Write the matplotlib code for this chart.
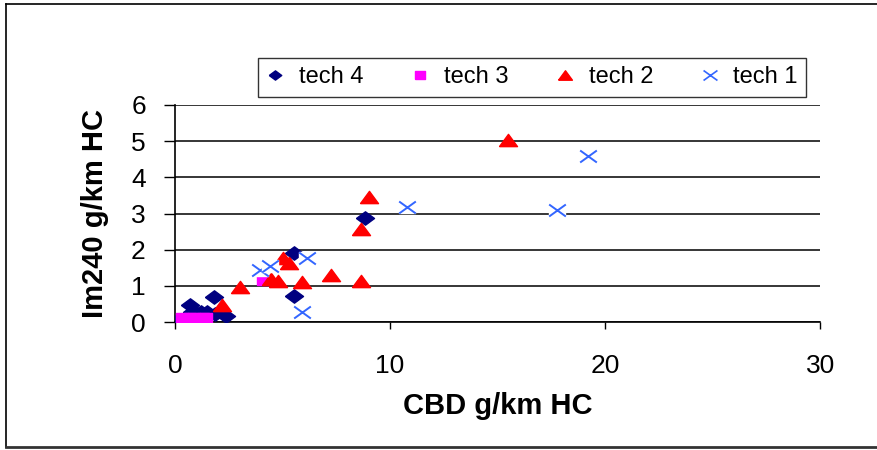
import numpy as np
import matplotlib
matplotlib.use("Agg")
import matplotlib.pyplot as plt
from matplotlib.path import Path
from matplotlib.lines import Line2D

# ── Data ──────────────────────────────────────────────────────────────────────
tech4_x = [0.1, 0.45, 0.7, 0.8, 1.0, 1.2, 1.5, 1.8, 1.85, 2.35, 5.53, 5.53, 8.83]
tech4_y = [0.03, 0.12, 0.48, 0.28, 0.25, 0.28, 0.27, 0.68, 0.22, 0.17, 1.92, 0.72, 2.87]

tech3_x = [0.35, 0.5, 0.6, 0.7, 0.9, 1.1, 1.3, 1.45, 4.1]
tech3_y = [0.10, 0.08, 0.05, 0.12, 0.10, 0.08, 0.10, 0.12, 1.15]

tech2_x = [15.47, 9.0, 8.64, 8.64, 7.25, 5.9, 4.8, 4.45, 5.0, 5.3, 3.0, 2.2]
tech2_y = [5.03, 3.45, 2.57, 1.13, 1.30, 1.12, 1.13, 1.18, 1.77, 1.63, 0.97, 0.47]

tech1_x = [19.2, 17.75, 10.8, 6.15, 5.9, 3.95, 4.4]
tech1_y = [4.59, 3.10, 3.18, 1.77, 0.28, 1.45, 1.55]

x_ticks = [0, 10, 20, 30]
y_ticks = [0, 1, 2, 3, 4, 5, 6]

# ── Markers (Excel style, a bit wider than tall) ──────────────────────────────
diamond = Path([(-1.35, 0), (0, 1), (1.35, 0), (0, -1), (-1.35, 0)])
square = Path([(-1.2, -1), (1.2, -1), (1.2, 1), (-1.2, 1), (-1.2, -1)])
triangle = Path([(-1, -0.68), (1, -0.68), (0, 0.68), (-1, -0.68)])
cross = Path([(-1, -0.72), (1, 0.72), (-1, 0.72), (1, -0.72)],
             [Path.MOVETO, Path.LINETO, Path.MOVETO, Path.LINETO])
cross_bg = Path([(-1, -0.72), (1, -0.72), (1, 0.72), (-1, 0.72), (-1, -0.72)])

NAVY = "#000080"
MAGENTA = "#ff00ff"
RED = "#ff0000"
BLUE = "#3366ff"

plt.rcParams["font.family"] = ["Liberation Sans", "DejaVu Sans"]

fig = plt.figure(figsize=(8.77, 4.5), dpi=100)
ax = fig.add_axes([0.1995, 0.2844, 0.7360, 0.4823])

ax.plot(tech4_x, tech4_y, ls="none", marker=diamond, ms=13,
        color=NAVY, mec=NAVY, zorder=3)
ax.plot(tech3_x, tech3_y, ls="none", marker=square, ms=9,
        color=MAGENTA, mec=MAGENTA, zorder=4)
ax.plot(tech2_x, tech2_y, ls="none", marker=triangle, ms=13,
        color=RED, mec=RED, zorder=5)
for i, (x, y) in enumerate(zip(tech1_x, tech1_y)):
    z = 6 + i * 0.01
    ax.plot([x], [y], ls="none", marker=cross_bg, ms=12, color="white",
            mec="white", zorder=z)
    ax.plot([x], [y], ls="none", marker=cross, ms=12, mfc="none",
            mec=BLUE, mew=1.4, zorder=z + 0.005)

ax.set_xlim(0, 30)
ax.set_ylim(0, 6)
ax.set_xticks(x_ticks)
ax.set_yticks(y_ticks)
ax.tick_params(axis="y", direction="out", length=8, width=1, pad=13,
               labelsize=19)
ax.tick_params(axis="x", direction="out", length=5, width=1, pad=18,
               labelsize=19)
for spine in ["top", "right"]:
    ax.spines[spine].set_visible(False)
for spine in ["left", "bottom"]:
    ax.spines[spine].set_linewidth(1.2)
ax.yaxis.grid(True, color="black", linewidth=1.1)
ax.set_axisbelow(True)

ax.set_xlabel("CBD g/km HC", fontsize=21, fontweight="bold", labelpad=10)
ax.set_ylabel("Im240 g/km HC", fontsize=21, fontweight="bold", labelpad=16)

handles = [
    Line2D([], [], ls="none", marker=diamond, ms=9, color=NAVY),
    Line2D([], [], ls="none", marker=square, ms=7, color=MAGENTA),
    Line2D([], [], ls="none", marker=triangle, ms=10, color=RED),
    Line2D([], [], ls="none", marker=cross, ms=10, mfc="none", mec=BLUE, mew=1.2),
]
leg = fig.legend(handles, ["tech 4", "tech 3", "tech 2", "tech 1"],
                 loc="center", bbox_to_anchor=(0.6066, 0.8278), ncol=4,
                 fontsize=17, frameon=True, fancybox=False, edgecolor="black",
                 handlelength=0.8, handletextpad=0.6, columnspacing=2.0,
                 borderpad=0.35)
leg.get_frame().set_linewidth(1.0)

# outer chart frame
fig.add_artist(Line2D([0.0068, 0.0068], [0.0067, 0.991], color="black", lw=1.2))
fig.add_artist(Line2D([0.0068, 1.0], [0.991, 0.991], color="black", lw=1.2))
fig.add_artist(Line2D([0.0068, 1.0], [0.0067, 0.0067], color="#333333", lw=2))

fig.savefig("out.png", dpi=100)
